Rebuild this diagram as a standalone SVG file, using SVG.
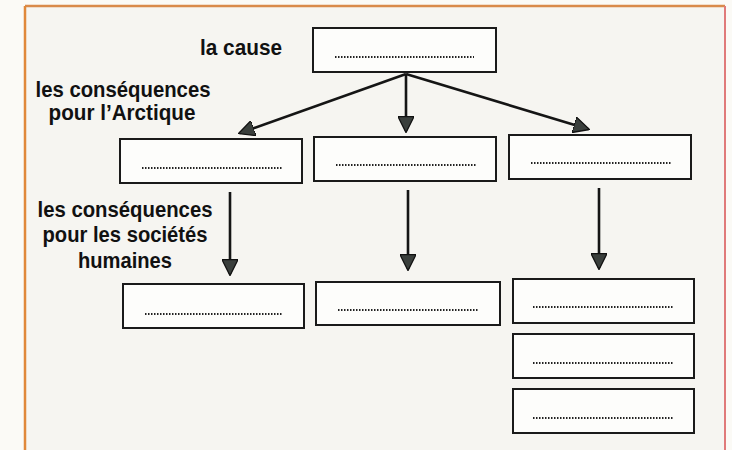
<svg xmlns="http://www.w3.org/2000/svg" width="732" height="450" viewBox="0 0 732 450">
<defs>
<style>
.box{fill:#fdfdfb;stroke:#1a1a1a;stroke-width:2}
.dots{stroke:#222;stroke-width:2;stroke-dasharray:1.5 1.5;fill:none}
.lbl{font-family:"Liberation Sans",Arial,sans-serif;font-weight:bold;font-size:22px;fill:#111;text-anchor:middle}
.arr{stroke:#151515;stroke-width:2.6;fill:none;marker-end:url(#ah)}
</style>
<marker id="ah" viewBox="0 0 10 10" refX="9" refY="5" markerWidth="6.2" markerHeight="6.2" markerUnits="strokeWidth" orient="auto">
<path d="M0,0 L10,5 L0,10 Z" fill="#3a3f3c" stroke="#111" stroke-width="0.8"/>
</marker>
</defs>
<rect x="0" y="0" width="732" height="450" fill="#fbfaf6"/>
<rect x="25" y="6" width="700" height="450" fill="#f6f5f1"/>
<g id="frame" fill="none">
<line x1="25" y1="6" x2="725" y2="6" stroke="#d98a4a" stroke-width="2.5"/>
<line x1="25" y1="6" x2="25" y2="450" stroke="#e0883a" stroke-width="2.5"/>
<line x1="725" y1="6" x2="725" y2="450" stroke="#e07a7a" stroke-width="2"/>
</g>
<g id="label-cause"><text class="lbl" x="241" y="55" textLength="82" lengthAdjust="spacingAndGlyphs">la cause</text></g>
<g id="label-arctique"><text class="lbl" x="123" y="97" textLength="175" lengthAdjust="spacingAndGlyphs">les conséquences</text><text class="lbl" x="122" y="120" textLength="147" lengthAdjust="spacingAndGlyphs">pour l’Arctique</text></g>
<g id="label-societes"><text class="lbl" x="125" y="217" textLength="175" lengthAdjust="spacingAndGlyphs">les conséquences</text><text class="lbl" x="125" y="242" textLength="165" lengthAdjust="spacingAndGlyphs">pour les sociétés</text><text class="lbl" x="125" y="268" textLength="94" lengthAdjust="spacingAndGlyphs">humaines</text></g>
<g id="connectors">
<line class="arr" x1="406" y1="74" x2="240" y2="133"/>
<line class="arr" x1="406" y1="74" x2="406" y2="131"/>
<line class="arr" x1="406" y1="74" x2="588" y2="129"/>
<line class="arr" x1="230" y1="192" x2="230" y2="274"/>
<line class="arr" x1="408" y1="190" x2="408" y2="269"/>
<line class="arr" x1="599" y1="188" x2="599" y2="268"/>
</g>
<g id="cause"><rect class="box" x="313" y="28" width="183" height="44"/><line class="dots" x1="335" y1="57" x2="474" y2="57"/></g>
<g id="arctique-1"><rect class="box" x="120" y="139" width="182" height="44"/><line class="dots" x1="142" y1="168" x2="282" y2="168"/></g>
<g id="arctique-2"><rect class="box" x="314" y="137" width="182" height="44"/><line class="dots" x1="336" y1="165" x2="476" y2="165"/></g>
<g id="arctique-3"><rect class="box" x="509" y="135" width="182" height="44"/><line class="dots" x1="531" y1="163" x2="672" y2="163"/></g>
<g id="societes-1"><rect class="box" x="123" y="284" width="181" height="44"/><line class="dots" x1="145" y1="314" x2="283" y2="314"/></g>
<g id="societes-2"><rect class="box" x="316" y="282" width="184" height="43"/><line class="dots" x1="338" y1="310" x2="478" y2="310"/></g>
<g id="societes-3"><rect class="box" x="513" y="279" width="181" height="44"/><line class="dots" x1="533" y1="307" x2="673" y2="307"/></g>
<g id="societes-4"><rect class="box" x="513" y="334" width="181" height="44"/><line class="dots" x1="533" y1="363" x2="673" y2="363"/></g>
<g id="societes-5"><rect class="box" x="513" y="389" width="181" height="44"/><line class="dots" x1="533" y1="418" x2="673" y2="418"/></g>
</svg>
